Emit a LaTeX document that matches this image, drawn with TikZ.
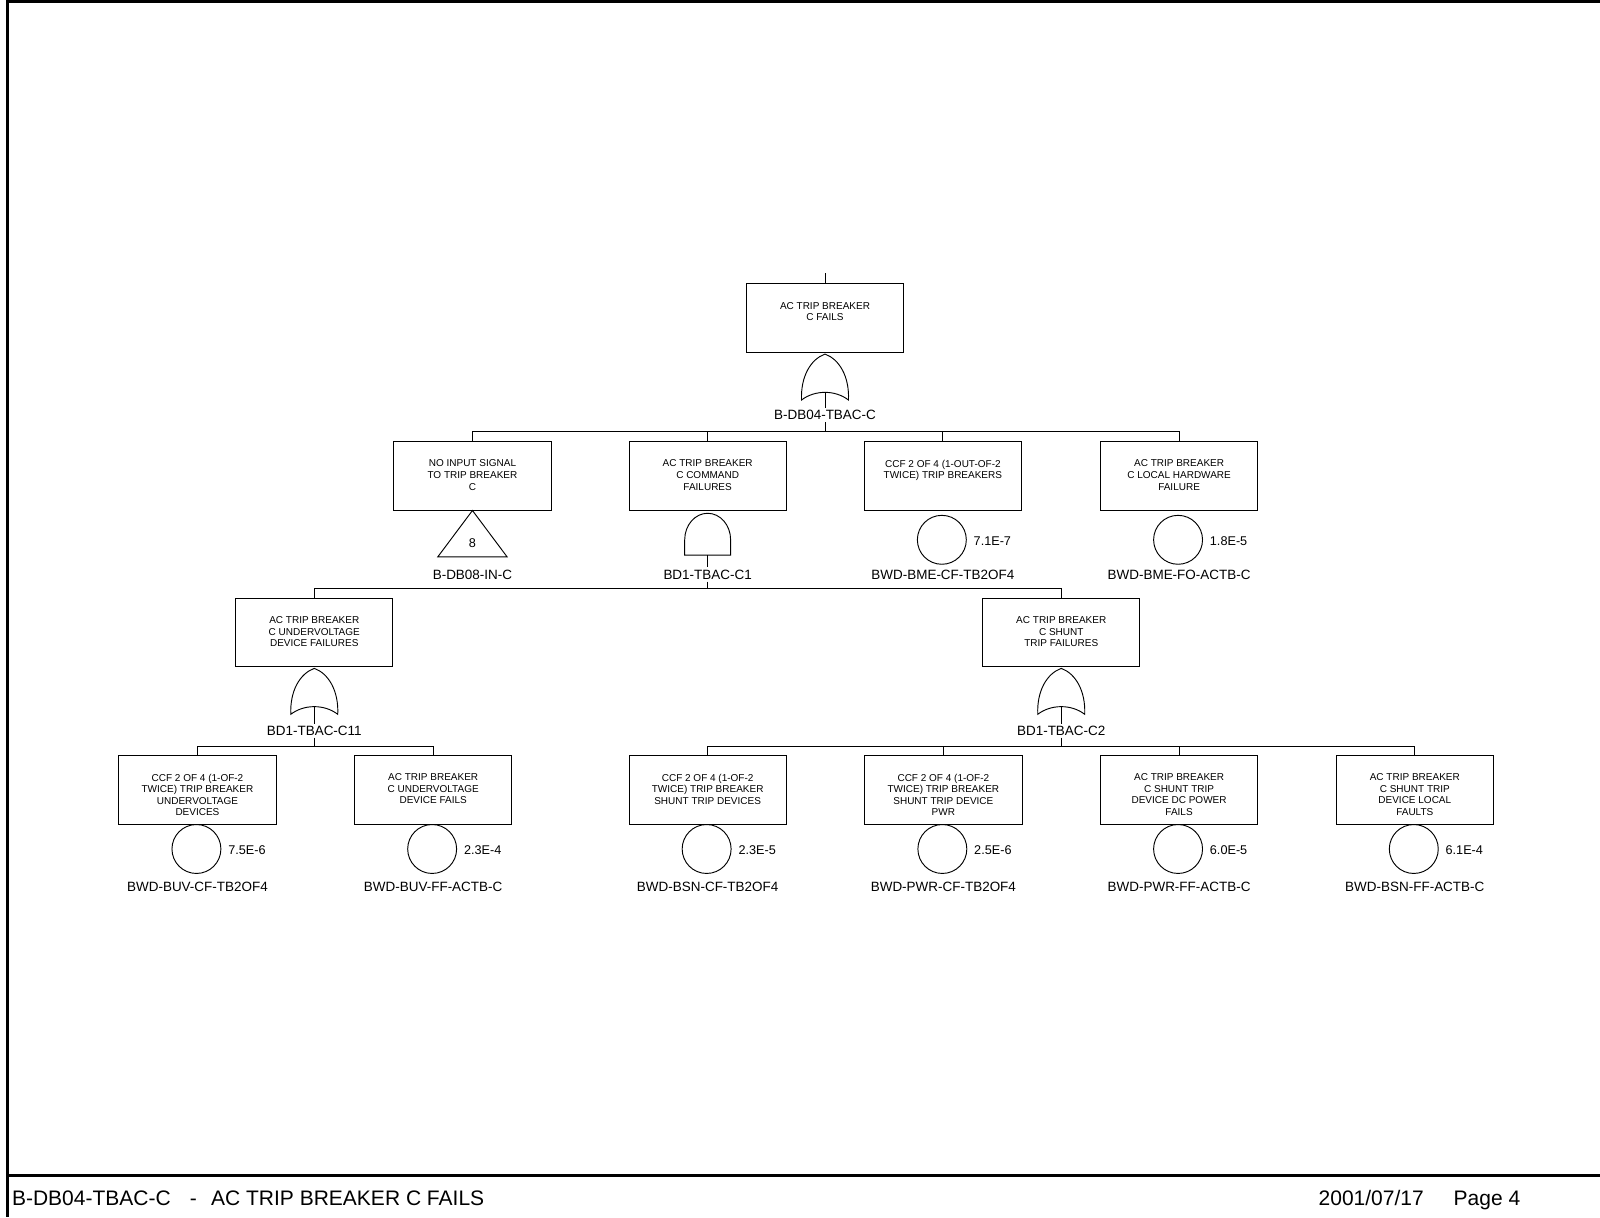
\documentclass[tikz,border=0pt]{standalone}
\usepackage{fontspec}
\setmainfont{Liberation Sans}
\tikzset{
  conn/.style={line width=0.7pt},
  framel/.style={line width=2.3pt},
  box/.style={draw, line width=0.7pt, minimum width=117.9pt, minimum height=51.3pt, inner sep=0pt},
  btext/.style={anchor=north, align=center, inner sep=0pt, font=\fontsize{7.5}{8.7}\selectfont},
  glabel/.style={inner sep=1.5pt, font=\fontsize{10.1}{12}\selectfont},
  prob/.style={anchor=west, inner sep=0pt, font=\fontsize{9.5}{11}\selectfont},
  event/.style={circle, draw, line width=0.7pt, minimum size=36.7pt, inner sep=0pt},
  orgate/.pic={
    \draw[conn] (0,0) .. controls (14,5) and (24,22) .. (23,45)
      .. controls (10,35) and (-10,35) .. (-23,45)
      .. controls (-24,22) and (-14,5) .. (0,0) -- cycle;
    \coordinate (-out) at (0,37.5);
  },
  andgate/.pic={
    \draw[conn] (-22.5,41) -- (-22.5,26) .. controls (-22.5,11.6) and (-12.4,0) .. (0,0)
      .. controls (12.4,0) and (22.5,11.6) .. (22.5,26) -- (22.5,41) -- cycle;
    \coordinate (-out) at (0,41);
  }
}
\begin{document}
\begin{tikzpicture}[x=0.7653pt,y=-0.7653pt]
\useasboundingbox (0,0) rectangle (1568,1193);
% frame
\draw[framel] (7.35,0) -- (7.35,1193);
\draw[framel] (6.2,1.4) -- (1568,1.4);
\draw[framel] (6.2,1152.2) -- (1568,1152.2);
\node[anchor=base west, inner sep=0pt, font=\fontsize{15.75}{18}\selectfont] (footl) at (11.5,1181)
  {B-DB04-TBAC-C\hspace{14.4pt}-\hspace{10.7pt}AC TRIP BREAKER C FAILS};
\node[anchor=base west, inner sep=0pt, font=\fontsize{15.75}{18}\selectfont] (footr) at (1292,1181)
  {2001/07/17\hspace{22.5pt}Page 4};

% ---------- level 0
\coordinate (top) at (808.5,268);
\node[box] (b0) at (808.5,311.7) {};
\node[btext] (t0) at ([yshift=-13.8pt]b0.north) {AC TRIP BREAKER\\C FAILS};
\draw[conn] (top) -- (b0.north);
\pic (g0) at (808.5,347) {orgate};
\node[glabel] (l0) at (808.5,407) {B-DB04-TBAC-C};
\draw[conn] (g0-out) -- (l0.north);
\coordinate (j1) at (808.5,423);
\draw[conn] (l0.south) -- (j1);

% ---------- level 1
\node[box] (b1) at (463,466.3) {};
\node[btext] (t1) at ([yshift=-13.8pt]b1.north) {NO INPUT SIGNAL\\TO TRIP BREAKER\\C};
\node[box] (b2) at (693.5,466.3) {};
\node[btext] (t2) at ([yshift=-13.8pt]b2.north) {AC TRIP BREAKER\\C COMMAND\\FAILURES};
\node[box] (b3) at (924,466.3) {};
\node[btext] (t3) at ([yshift=-13.8pt]b3.north) {CCF 2 OF 4 (1-OUT-OF-2\\TWICE) TRIP BREAKERS};
\node[box] (b4) at (1155.5,466.3) {};
\node[btext] (t4) at ([yshift=-13.8pt]b4.north) {AC TRIP BREAKER\\C LOCAL HARDWARE\\FAILURE};
\draw[conn] (b1.north) |- (j1) -| (b4.north);
\draw[conn] (b2.north) -- (b2.north |- j1);
\draw[conn] (b3.north) -- (b3.north |- j1);

% transfer
\coordinate (tr1) at (b1.south);
\draw[conn] (tr1) -- ++(34,45.5) -- ++(-68,0) -- cycle;
\node[inner sep=0pt, font=\fontsize{9.5}{11}\selectfont] (x1) at (463,532) {8};
\node[glabel] (l1) at (463,563) {B-DB08-IN-C};

% AND gate
\pic (g2) at (693.5,503) {andgate};
\node[glabel] (l2) at (693.5,563) {BD1-TBAC-C1};
\draw[conn] (g2-out) -- (l2.north);
\coordinate (j2) at (693.5,577);
\draw[conn] (l2.south) -- (j2);

% basic events level 1
\node[event] (e3) at (923,529) {};
\node[prob] (p3) at ([xshift=23.7pt,yshift=-0.8pt]e3.center) {7.1E-7};
\node[glabel] (n3) at (924,563) {BWD-BME-CF-TB2OF4};
\node[event] (e4) at (1154.5,529) {};
\node[prob] (p4) at ([xshift=23.7pt,yshift=-0.8pt]e4.center) {1.8E-5};
\node[glabel] (n4) at (1155.5,563) {BWD-BME-FO-ACTB-C};

% ---------- level 2
\node[box] (b5) at (308,620) {};
\node[btext] (t5) at ([yshift=-13.8pt]b5.north) {AC TRIP BREAKER\\C UNDERVOLTAGE\\DEVICE FAILURES};
\node[box] (b6) at (1040,620) {};
\node[btext] (t6) at ([yshift=-13.8pt]b6.north) {AC TRIP BREAKER\\C SHUNT\\TRIP FAILURES};
\draw[conn] (b5.north) |- (j2) -| (b6.north);

\pic (g5) at (308,655) {orgate};
\node[glabel] (l5) at (308,716) {BD1-TBAC-C11};
\draw[conn] (g5-out) -- (l5.north);
\coordinate (j5) at (308,732);
\draw[conn] (l5.south) -- (j5);

\pic (g6) at (1040,655) {orgate};
\node[glabel] (l6) at (1040,716) {BD1-TBAC-C2};
\draw[conn] (g6-out) -- (l6.north);
\coordinate (j6) at (1040,732);
\draw[conn] (l6.south) -- (j6);

% ---------- level 3
\node[box] (b7) at (193.5,774) {};
\node[btext] (t7) at ([yshift=-13.8pt]b7.north) {CCF 2 OF 4 (1-OF-2\\TWICE) TRIP BREAKER\\UNDERVOLTAGE\\DEVICES};
\node[box] (b8) at (424.5,774) {};
\node[btext] (t8) at ([yshift=-13.8pt]b8.north) {AC TRIP BREAKER\\C UNDERVOLTAGE\\DEVICE FAILS};
\node[box] (b9) at (693.5,774) {};
\node[btext] (t9) at ([yshift=-13.8pt]b9.north) {CCF 2 OF 4 (1-OF-2\\TWICE) TRIP BREAKER\\SHUNT TRIP DEVICES};
\node[box] (b10) at (924.5,774) {};
\node[btext] (t10) at ([yshift=-13.8pt]b10.north) {CCF 2 OF 4 (1-OF-2\\TWICE) TRIP BREAKER\\SHUNT TRIP DEVICE\\PWR};
\node[box] (b11) at (1155.5,774) {};
\node[btext] (t11) at ([yshift=-13.8pt]b11.north) {AC TRIP BREAKER\\C SHUNT TRIP\\DEVICE DC POWER\\FAILS};
\node[box] (b12) at (1386.5,774) {};
\node[btext] (t12) at ([yshift=-13.8pt]b12.north) {AC TRIP BREAKER\\C SHUNT TRIP\\DEVICE LOCAL\\FAULTS};

\draw[conn] (b7.north) |- (j5) -| (b8.north);
\draw[conn] (b9.north) |- (j6) -| (b12.north);
\draw[conn] (b10.north) -- (b10.north |- j6);
\draw[conn] (b11.north) -- (b11.north |- j6);

% basic events level 3
\node[event] (e7) at (192.5,832) {};
\node[prob] (p7) at ([xshift=23.7pt,yshift=-0.8pt]e7.center) {7.5E-6};
\node[glabel] (n7) at (193.5,869) {BWD-BUV-CF-TB2OF4};
\node[event] (e8) at (423.5,832) {};
\node[prob] (p8) at ([xshift=23.7pt,yshift=-0.8pt]e8.center) {2.3E-4};
\node[glabel] (n8) at (424.5,869) {BWD-BUV-FF-ACTB-C};
\node[event] (e9) at (692.5,832) {};
\node[prob] (p9) at ([xshift=23.7pt,yshift=-0.8pt]e9.center) {2.3E-5};
\node[glabel] (n9) at (693.5,869) {BWD-BSN-CF-TB2OF4};
\node[event] (e10) at (923.5,832) {};
\node[prob] (p10) at ([xshift=23.7pt,yshift=-0.8pt]e10.center) {2.5E-6};
\node[glabel] (n10) at (924.5,869) {BWD-PWR-CF-TB2OF4};
\node[event] (e11) at (1154.5,832) {};
\node[prob] (p11) at ([xshift=23.7pt,yshift=-0.8pt]e11.center) {6.0E-5};
\node[glabel] (n11) at (1155.5,869) {BWD-PWR-FF-ACTB-C};
\node[event] (e12) at (1385.5,832) {};
\node[prob] (p12) at ([xshift=23.7pt,yshift=-0.8pt]e12.center) {6.1E-4};
\node[glabel] (n12) at (1386.5,869) {BWD-BSN-FF-ACTB-C};
\end{tikzpicture}
\end{document}
